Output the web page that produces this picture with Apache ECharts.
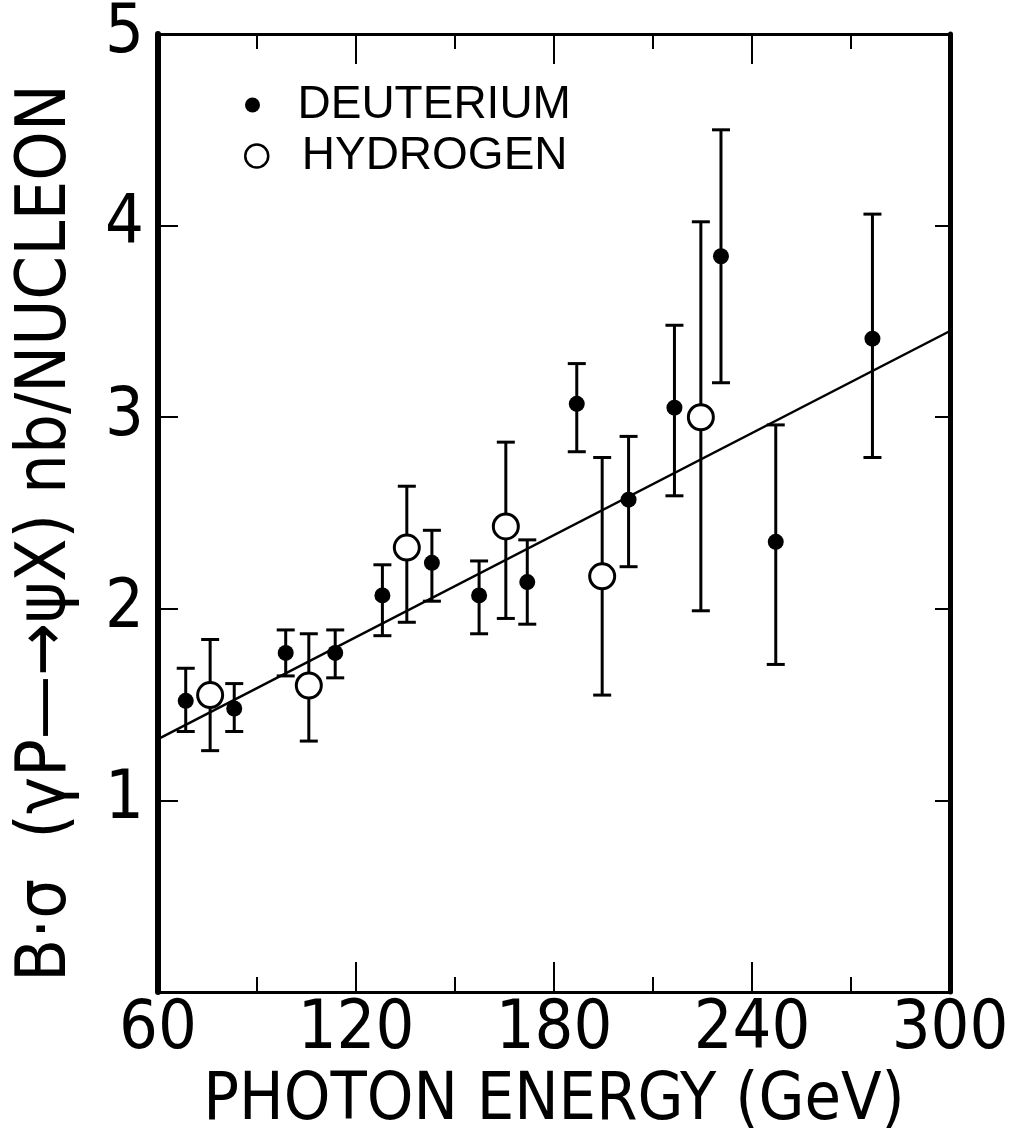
<!DOCTYPE html>
<html>
<head>
<meta charset="utf-8">
<script src="https://cdn.jsdelivr.net/npm/echarts@6/dist/echarts.min.js"></script>
<style>
  html, body { margin: 0; padding: 0; background: #fff; }
  #root { width: 1021px; height: 1140px; }
</style>
</head>
<body>
<div id="root"></div>
<script>
// photon energy (GeV), B*sigma (nb/nucleon), error bar ends
const deutE    = [68.4, 83.1, 98.7, 113.7, 128.0, 143.0, 157.3, 171.9, 186.9, 202.6, 216.5, 230.6, 247.2, 276.5];
const deutVal  = [1.52, 1.48, 1.77, 1.77, 2.07, 2.24, 2.07, 2.14, 3.07, 2.57, 3.05, 3.84, 2.35, 3.41];
const deutLow  = [1.36, 1.36, 1.65, 1.64, 1.86, 2.04, 1.87, 1.92, 2.82, 2.22, 2.59, 3.18, 1.71, 2.79];
const deutHigh = [1.69, 1.61, 1.89, 1.89, 2.23, 2.41, 2.25, 2.36, 3.28, 2.90, 3.48, 4.50, 2.96, 4.06];

const hydE    = [75.8, 105.7, 135.4, 165.4, 194.6, 224.5];
const hydVal  = [1.55, 1.60, 2.32, 2.43, 2.17, 3.00];
const hydLow  = [1.26, 1.31, 1.93, 1.95, 1.55, 1.99];
const hydHigh = [1.84, 1.87, 2.64, 2.87, 2.79, 4.02];

// straight-line fit drawn across the plot
const fitE   = [60, 300];
const fitVal = [1.32, 3.45];

const FONT = '"Liberation Sans Narrow", "DejaVu Sans Condensed", "Liberation Sans", sans-serif';

const zip = (a, b) => a.map((v, i) => [v, b[i]]);
const bars = (e, lo, hi) => e.map((v, i) => [v, lo[i], hi[i]]);

function errorBar(params, api) {
  const x = api.value(0);
  const top = api.coord([x, api.value(2)]);
  const bot = api.coord([x, api.value(1)]);
  const w = 9;
  const style = { stroke: '#000', lineWidth: 3 };
  return {
    type: 'group',
    children: [
      { type: 'line', shape: { x1: top[0], y1: top[1], x2: bot[0], y2: bot[1] }, style },
      { type: 'line', shape: { x1: top[0] - w, y1: top[1], x2: top[0] + w, y2: top[1] }, style },
      { type: 'line', shape: { x1: bot[0] - w, y1: bot[1], x2: bot[0] + w, y2: bot[1] }, style }
    ]
  };
}

const chart = echarts.init(document.getElementById('root'));

const xTicks = {
  axisTick: { show: true, inside: true, length: 30, lineStyle: { color: '#000', width: 2 } },
  minorTick: { show: true, splitNumber: 2, length: 15, lineStyle: { color: '#000', width: 2 } },
  splitLine: { show: false },
  minorSplitLine: { show: false }
};

const option = {
  backgroundColor: '#ffffff',
  animation: false,
  grid: { left: 158, right: 71, top: 24, bottom: 136 },
  legend: [
    {
      data: [{ name: 'DEUTERIUM', icon: 'circle' }],
      left: 240, top: 77,
      itemWidth: 40, itemHeight: 15,
      selectedMode: false,
      textStyle: { fontFamily: '"Liberation Sans", sans-serif', fontSize: 46, color: '#000', padding: [0, 0, 0, 20] }
    },
    {
      data: [{ name: 'HYDROGEN', icon: 'circle', itemStyle: { color: '#fff', borderColor: '#000', borderWidth: 2.5 } }],
      left: 239, top: 128,
      itemWidth: 40, itemHeight: 23,
      selectedMode: false,
      textStyle: { fontFamily: '"Liberation Sans", sans-serif', fontSize: 46, color: '#000', padding: [0, 0, 0, 20] }
    }
  ],
  xAxis: [
    Object.assign({
      type: 'value', min: 60, max: 300, interval: 60, position: 'bottom',
      name: 'PHOTON ENERGY (GeV)', nameLocation: 'middle', nameGap: 70,
      nameTextStyle: { fontFamily: FONT, fontSize: 66, color: '#000' },
      axisLine: { show: true, onZero: false, lineStyle: { color: '#000', width: 3 } },
      axisLabel: { fontFamily: FONT, fontSize: 68, color: '#000', margin: 4 }
    }, xTicks),
    Object.assign({
      type: 'value', min: 60, max: 300, interval: 60, position: 'top',
      axisLine: { show: true, onZero: false, lineStyle: { color: '#000', width: 3 } },
      axisLabel: { show: false }
    }, xTicks)
  ],
  yAxis: [
    {
      type: 'value', min: 0, max: 5, interval: 1, position: 'left',
      name: 'B\u00b7\u03c3  (\u03b3P\u2014\u2192\u03c8X) nb/NUCLEON', nameLocation: 'middle', nameGap: 76,
      nameTextStyle: { fontFamily: FONT, fontSize: 70, color: '#000', padding: [0, 40, 0, 0] },
      axisLine: { show: true, onZero: false, lineStyle: { color: '#000', width: 6 } },
      axisTick: { show: true, inside: true, length: 20, lineStyle: { color: '#000', width: 2 } },
      axisLabel: { fontFamily: FONT, fontSize: 68, color: '#000', margin: 14,
        formatter: (v) => (v === 0 ? '' : String(v)) },
      splitLine: { show: false }
    },
    {
      type: 'value', min: 0, max: 5, interval: 1, position: 'right',
      axisLine: { show: true, onZero: false, lineStyle: { color: '#000', width: 5 } },
      axisTick: { show: true, inside: true, length: 15, lineStyle: { color: '#000', width: 2 } },
      axisLabel: { show: false },
      splitLine: { show: false }
    }
  ],
  series: [
    {
      name: 'fit', type: 'line', data: zip(fitE, fitVal), symbol: 'none', z: 1,
      lineStyle: { color: '#000', width: 2.5 }
    },
    {
      name: 'deut-err', type: 'custom', data: bars(deutE, deutLow, deutHigh),
      renderItem: errorBar, z: 2, encode: { x: 0, y: [1, 2] }
    },
    {
      name: 'hyd-err', type: 'custom', data: bars(hydE, hydLow, hydHigh),
      renderItem: errorBar, z: 2, encode: { x: 0, y: [1, 2] }
    },
    {
      name: 'DEUTERIUM', type: 'scatter', data: zip(deutE, deutVal), symbol: 'circle', symbolSize: 16, z: 3,
      itemStyle: { color: '#000', opacity: 1 }
    },
    {
      name: 'HYDROGEN', type: 'scatter', data: zip(hydE, hydVal), symbol: 'circle', symbolSize: 25, z: 4,
      itemStyle: { color: '#fff', borderColor: '#000', borderWidth: 3, opacity: 1 }
    }
  ]
};

chart.setOption(option);
</script>
</body>
</html>
